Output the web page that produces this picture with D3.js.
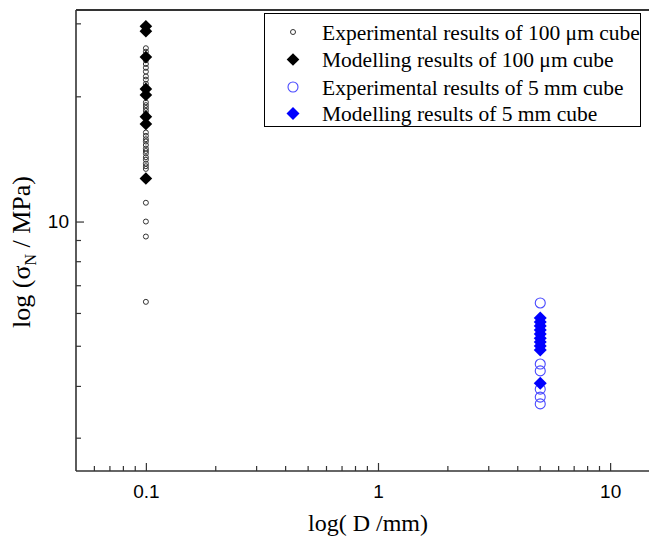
<!DOCTYPE html>
<html>
<head>
<meta charset="utf-8">
<script src="https://cdn.jsdelivr.net/npm/d3@7"></script>
<style>
  html, body { margin: 0; padding: 0; background: #fff; }
  svg { display: block; }
</style>
</head>
<body>
<svg id="chart" width="649" height="541"></svg>
<script>
// Specimen sizes (mm)
const smallSize = 0.1;   // 100 µm cube
const largeSize = 5;     // 5 mm cube

// Nominal strength (MPa), 100 µm cube
const expSmall = [26.2, 25.7, 25.1, 24.5, 24.0, 23.5, 23.0, 22.4, 22.0, 21.5,
                  19.4, 19.1, 18.8, 18.5, 18.2, 16.4, 16.1, 15.8, 15.6, 15.3,
                  15.0, 14.8, 14.6, 14.3, 14.1, 13.8, 13.6, 13.4, 11.1, 10.0,
                  9.2, 6.4];
const modSmall = [29.6, 28.8, 24.95, 20.9, 20.2, 17.9, 17.2, 12.7];

// Nominal strength (MPa), 5 mm cube
const expLarge = [6.36, 4.53, 4.36, 3.94, 3.77, 3.63];
const modLarge = [5.85, 5.72, 5.60, 5.47, 5.35, 5.23, 5.12, 5.01, 4.90, 4.07];

// Axis ticks
const xMajorTicks = [0.1, 1, 10];
const xMinorTicks = [0.06, 0.07, 0.08, 0.09, 0.2, 0.3, 0.4, 0.5, 0.6, 0.7, 0.8, 0.9,
                     2, 3, 4, 5, 6, 7, 8, 9];
const yMajorTicks = [10];
const yMinorTicks = [3, 4, 5, 6, 7, 8, 9, 20, 30];

const legendLabels = [
  "Experimental results of 100 \u03bcm cube",
  "Modelling results of 100 \u03bcm cube",
  "Experimental results of 5 mm cube",
  "Modelling results of 5 mm cube"
];

const svg = d3.select("#chart");
const plotLeft = 76, plotRight = 651, plotTop = 10, plotBottom = 471;

const x = d3.scaleLog().domain([0.05, 15]).range([plotLeft, plotRight]);
const y = d3.scaleLog().domain([2.5, 32.4]).range([plotBottom, plotTop]);

const axisColor = "#333";
const serif = "Liberation Serif, Times New Roman, serif";
const sans = "Liberation Sans, Arial, sans-serif";

// Frame: top border
svg.append("line").attr("x1", plotLeft).attr("x2", plotRight).attr("y1", plotTop).attr("y2", plotTop)
  .attr("stroke", axisColor).attr("stroke-width", 2);

// Bottom axis
const gx = svg.append("g").attr("transform", `translate(0,${plotBottom})`);
gx.call(d3.axisBottom(x).tickValues(xMajorTicks).tickSize(-8).tickPadding(14)
    .tickFormat(d => d3.format("~g")(d)));
gx.append("g").selectAll("line").data(xMinorTicks).join("line")
  .attr("x1", d => x(d)).attr("x2", d => x(d)).attr("y1", 0).attr("y2", -5)
  .attr("stroke", axisColor).attr("stroke-width", 1.2);

// Left axis
const gy = svg.append("g").attr("transform", `translate(${plotLeft},0)`);
gy.call(d3.axisLeft(y).tickValues(yMajorTicks).tickSize(-8).tickPadding(7)
    .tickFormat(d => d3.format("~g")(d)));
gy.append("g").selectAll("line").data(yMinorTicks).join("line")
  .attr("y1", d => y(d)).attr("y2", d => y(d)).attr("x1", 0).attr("x2", 5)
  .attr("stroke", axisColor).attr("stroke-width", 1.2);

[gx, gy].forEach(g => {
  g.select(".domain").attr("stroke", axisColor).attr("stroke-width", 1.6);
  g.selectAll(".tick line").attr("stroke", axisColor).attr("stroke-width", 1.2);
  g.selectAll(".tick text").attr("font-family", sans)
    .attr("font-size", 19).attr("fill", "#000");
});
gx.select(".domain").attr("d", `M${plotLeft},0H${plotRight}`);
gy.select(".domain").attr("d", `M0,${plotBottom}V${plotTop}`);

// Markers: open circles and filled diamonds (squares turned 45°)
const square = d3.symbol().type(d3.symbolSquare);

function circles(data, xv, r, color, sw) {
  svg.append("g").selectAll("circle").data(data).join("circle")
    .attr("cx", x(xv)).attr("cy", d => y(d)).attr("r", r)
    .attr("fill", "none").attr("stroke", color).attr("stroke-width", sw);
}
function diamonds(data, xv, size, color) {
  svg.append("g").selectAll("path").data(data).join("path")
    .attr("d", square.size(size)())
    .attr("transform", d => `translate(${x(xv)},${y(d)}) rotate(45)`)
    .attr("fill", color);
}

circles(expSmall, smallSize, 2.5, "#333", 1);
diamonds(modSmall, smallSize, 80, "#000");
circles(expLarge, largeSize, 5, "#4a4aff", 1.1);
diamonds(modLarge, largeSize, 85, "#0000ff");

// Legend
const lg = svg.append("g");
lg.append("rect").attr("x", 264.5).attr("y", 13.5).attr("width", 376).attr("height", 113)
  .attr("fill", "#fff").attr("stroke", "#000").attr("stroke-width", 1);
const rowY = [32, 59.5, 87, 113.5];
const legendMarks = [
  g => g.append("circle").attr("r", 2.5).attr("fill", "none").attr("stroke", "#333"),
  g => g.append("path").attr("d", square.size(80)()).attr("transform", "rotate(45)").attr("fill", "#000"),
  g => g.append("circle").attr("r", 5).attr("fill", "none").attr("stroke", "#4a4aff").attr("stroke-width", 1.1),
  g => g.append("path").attr("d", square.size(85)()).attr("transform", "rotate(45)").attr("fill", "#0000ff")
];
legendLabels.forEach((t, i) => {
  const g = lg.append("g").attr("transform", `translate(293,${rowY[i]})`);
  legendMarks[i](g);
  lg.append("text").attr("x", 322).attr("y", rowY[i]).attr("dy", "0.35em")
    .attr("font-family", serif).attr("font-size", 21.5)
    .attr("fill", "#000").text(t);
});

// Axis titles
svg.append("text").attr("x", 368).attr("y", 531)
  .attr("text-anchor", "middle")
  .attr("font-family", serif).attr("font-size", 24)
  .attr("fill", "#000").text("log( D /mm)");

const yt = svg.append("text").attr("transform", "translate(30,252) rotate(-90)")
  .attr("text-anchor", "middle")
  .attr("font-family", serif).attr("font-size", 26)
  .attr("fill", "#000");
yt.append("tspan").text("log (\u03c3");
yt.append("tspan").attr("font-size", 16).attr("dy", 6).text("N");
yt.append("tspan").attr("dy", -6).text(" / MPa)");
</script>
</body>
</html>
